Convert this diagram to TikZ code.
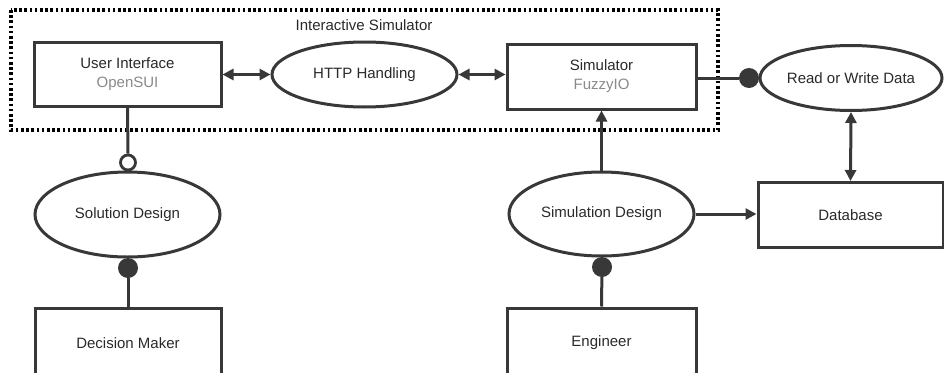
\documentclass[tikz,border=0pt]{standalone}
\usepackage{fontspec}
\setmainfont{Liberation Sans}
\usetikzlibrary{shapes.geometric,arrows.meta}
\definecolor{ln}{HTML}{383838}
\definecolor{tx}{HTML}{2A2A2A}
\definecolor{sub}{HTML}{8A8A8A}
\tikzset{
  base/.style={draw=ln, line width=3pt, text=tx, font=\fontsize{15}{19}\selectfont, align=center, inner sep=0pt},
  boxnode/.style={base, rectangle},
  ellnode/.style={base, ellipse},
  conn/.style={draw=ln, line width=3pt},
  tip/.style={-{Triangle[length=11pt,width=11pt]}},
  dbl/.style={{Triangle[length=11pt,width=11pt]}-{Triangle[length=11pt,width=11pt]}},
  fdot/.style={circle, fill=ln, draw=none, minimum size=20pt, inner sep=0pt},
  odot/.style={circle, fill=white, draw=ln, line width=2.8pt, minimum size=15pt, inner sep=0pt},
  group/.style={draw=black, line width=3.2pt, dash pattern=on 2.6pt off 2.6pt}
}
\begin{document}
\begin{tikzpicture}[x=1pt,y=-1pt]
\useasboundingbox (0,0) rectangle (944,372);
\clip (0,0) rectangle (944,372);
\fill[white] (0,0) rectangle (944,372);
% group frame
\draw[group] (11,10) rectangle (718,130);
\node[text=tx, font=\fontsize{15}{17}\selectfont] (grp) at (364,25) {Interactive Simulator};
% nodes
\node[boxnode, minimum width=187pt, minimum height=64pt] (ui) at (127.5,74.5) {User Interface\\\textcolor{sub}{OpenSUI}};
\node[ellnode, minimum width=185pt, minimum height=65pt] (http) at (364.5,74.5) {HTTP Handling};
\node[boxnode, minimum width=189pt, minimum height=65pt] (sim) at (601.5,76.5) {Simulator\\\textcolor{sub}{FuzzyIO}};
\node[ellnode, minimum width=182pt, minimum height=65pt] (rw) at (851,78) {Read or Write Data};
\node[ellnode, minimum width=185pt, minimum height=85pt] (sold) at (127.5,214.5) {Solution Design};
\node[ellnode, minimum width=185pt, minimum height=84pt] (simd) at (601.5,214) {Simulation Design};
\node[boxnode, minimum width=185pt, minimum height=65pt] (db) at (850.5,215) {Database};
\node[boxnode, minimum width=186pt, minimum height=70pt] (dm) at (128,343) {Decision Maker};
\node[boxnode, minimum width=189pt, minimum height=70pt] (eng) at (601.5,343) {Engineer};
% lollipop dots
\node[odot] (o1) at (128,162.5) {};
\node[fdot] (d1) at (128,268) {};
\node[fdot] (d2) at (602,267) {};
\node[fdot] (d3) at (749,78) {};
% connectors
\draw[conn, dbl] (ui.east) -- (http.west);
\draw[conn, dbl] (http.east) -- (sim.west |- http.east);
\draw[conn] (sim.east |- d3) -- (d3);
\draw[conn, dbl] (rw.south) -- (db.north);
\draw[conn, tip] (simd.north) -- (sim.south);
\draw[conn, tip] (simd.east) -- (db.west |- simd.east);
\draw[conn] (ui.south) -- (o1.north);
\draw[conn] (d1) -- (dm.north);
\draw[conn] (d2) -- (eng.north);
\end{tikzpicture}
\end{document}
